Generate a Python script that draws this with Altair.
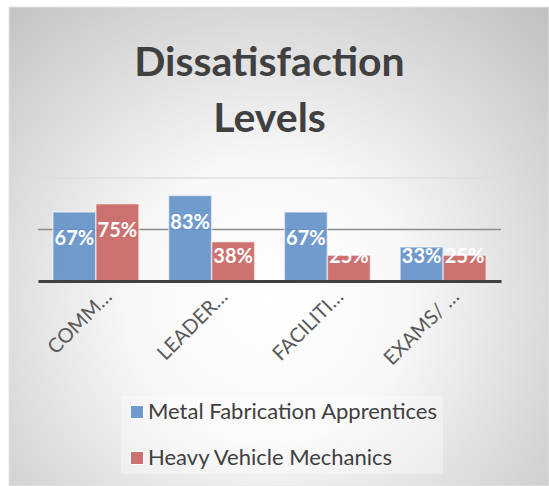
import altair as alt
import pandas as pd

categories = ["COMM…", "LEADER…", "FACILITI…", "EXAMS/ …"]
series_names = ["Metal Fabrication Apprentices", "Heavy Vehicle Mechanics"]
metal_fab = [0.67, 0.83, 0.67, 0.33]
heavy_vehicle = [0.75, 0.38, 0.25, 0.25]
series_colors = ["#6794C9", "#C96866"]
title_lines = ["Dissatisfaction", "Levels"]
grid_values = [0.5, 1.0]
grid_colors = ["#8c8c8c", "#dedede"]

rows = []
for i, c in enumerate(categories):
    rows.append({"category": c, "series": series_names[0], "value": metal_fab[i]})
    rows.append({"category": c, "series": series_names[1], "value": heavy_vehicle[i]})
df = pd.DataFrame(rows)
grid_df = pd.DataFrame({"g": grid_values})

FONT = "Lato"

bg = alt.Chart(pd.DataFrame({"bg": [0]})).mark_rect(
    fill={
        "gradient": "radial",
        "x1": 0.48, "y1": 0.6, "r1": 0,
        "x2": 0.48, "y2": 0.6, "r2": 0.75,
        "stops": [
            {"offset": 0, "color": "#ffffff"},
            {"offset": 0.35, "color": "#f7f7f7"},
            {"offset": 1, "color": "#c0c0c0"},
        ],
    },
    stroke="#e4e4e4",
    strokeWidth=1,
).encode(
    x=alt.value(-29), x2=alt.value(511), y=alt.value(-171), y2=alt.value(308)
)

y_scale = alt.Scale(domain=[0, 1])

grid = alt.Chart(grid_df).mark_rule(strokeWidth=1.5).encode(
    y=alt.Y("g:Q", scale=y_scale, axis=None),
    stroke=alt.Stroke("g:N", scale=alt.Scale(domain=grid_values, range=grid_colors), legend=None),
)

x_enc = alt.X(
    "category:N",
    sort=categories,
    scale=alt.Scale(paddingInner=0.257, paddingOuter=0.1285),
    axis=alt.Axis(
        title=None,
        labelAngle=315,
        labelAlign="right",
        labelBaseline="top",
        labelFont=FONT,
        labelFontSize=20,
        labelColor="#595959",
        labelPadding=5,
        labelOffset=6,
        ticks=False,
        grid=False,
        domainColor="#404040",
        domainWidth=3,
        zindex=1,
    ),
)
xoff_enc = alt.XOffset("series:N", sort=series_names, scale=alt.Scale(paddingInner=0, paddingOuter=0))

bars = alt.Chart(df).mark_bar(
    stroke="#ffffff", strokeOpacity=0.55, strokeWidth=1.5, opacity=0.93
).encode(
    x=x_enc,
    xOffset=xoff_enc,
    y=alt.Y("value:Q", scale=y_scale, axis=None),
    color=alt.Color(
        "series:N",
        sort=series_names,
        scale=alt.Scale(domain=series_names, range=series_colors),
        legend=alt.Legend(
            title=None,
            orient="none",
            legendX=83,
            legendY=218,
            direction="vertical",
            symbolType="square",
            symbolSize=169,
            symbolStrokeColor="#ffffff",
            symbolStrokeWidth=1,
            labelFont=FONT,
            labelFontSize=22,
            labelColor="#404040",
            labelLimit=400,
            rowPadding=24,
            labelOffset=0,
            padding=5,
            fillColor="rgba(255,255,255,0.35)",
        ),
    ),
)

labels = alt.Chart(df).transform_calculate(
    label_y="max(datum.value - 0.265, 0.235)"
).mark_text(
    color="#ffffff", font=FONT, fontWeight="bold", fontSize=20, baseline="middle", align="center"
).encode(
    x=alt.X("category:N", sort=categories),
    xOffset=alt.XOffset("series:N", sort=series_names),
    y=alt.Y("label_y:Q", scale=y_scale, axis=None),
    text=alt.Text("value:Q", format=".0%"),
)

chart = alt.layer(bg, grid, bars, labels).properties(
    width=463,
    height=103,
    autosize="none",
    padding={"left": 38, "top": 178, "right": 48, "bottom": 205},
    background="#ffffff",
    title=alt.TitleParams(
        title_lines,
        font=FONT,
        fontSize=41,
        fontWeight="bold",
        color="#404040",
        lineHeight=56,
        anchor="middle",
        offset=-141,
        dy=-7,
    ),
).configure_view(stroke=None)

chart.save("out.html", embed_options={"renderer": "svg", "actions": False})
